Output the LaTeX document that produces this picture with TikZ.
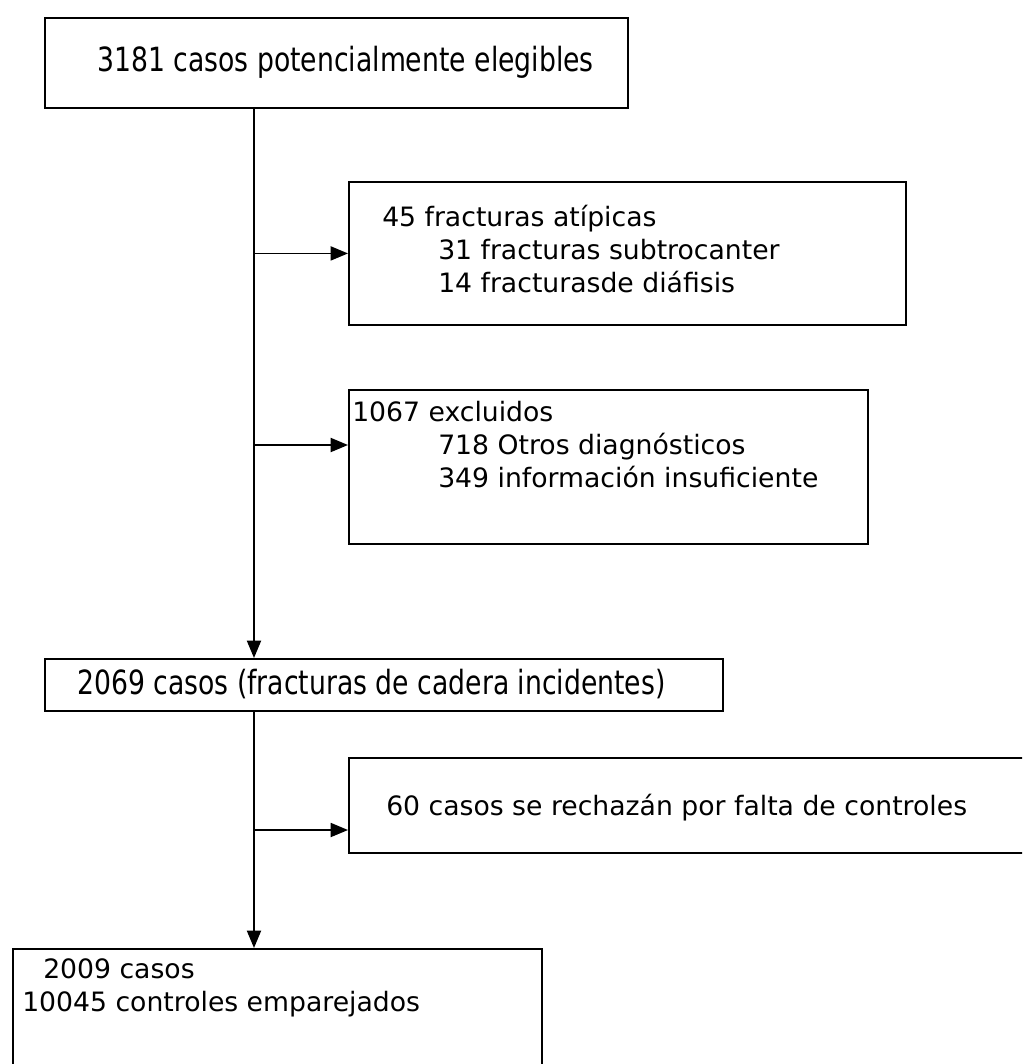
\documentclass[tikz,border=0pt]{standalone}
\usepackage{fontspec}
\setmainfont{DejaVu Sans}
\newfontfamily\narrowfont[FakeStretch=0.8]{DejaVu Sans}
\usetikzlibrary{positioning,arrows.meta,calc}
\tikzset{
  stagebox/.style={draw, rectangle, line width=1.4pt, inner sep=0pt, anchor=north west},
  boxsize/.style 2 args={minimum width=#1*0.75pt, minimum height=#2*0.75pt},
  boxtext/.style={anchor=west, inner sep=0pt, align=left, font=\fontsize{20}{24.75}\selectfont},
  narrowtext/.style={anchor=west, inner sep=0pt, font=\narrowfont\fontsize{25}{28}\selectfont},
  flowarrow/.style={-{Triangle[length=13pt,width=10.5pt]}, line width=1.4pt}
}

\begin{document}
\begin{tikzpicture}[x=0.75pt, y=-0.75pt]
  \useasboundingbox (0,0) rectangle (1022,1064);
  \clip (0,0) rectangle (1022,1064);
  \coordinate (trunk) at (254,0);
  % boxes
  \node[stagebox, boxsize={583}{90}] (elegibles) at (44,17) {};
  \node[stagebox, boxsize={557}{143}] (atipicas) at (348,181) {};
  \node[stagebox, boxsize={519}{154}] (excluidos) at (348,389) {};
  \node[stagebox, boxsize={678}{52}] (incidentes) at (44,658) {};
  \node[stagebox, boxsize={720}{95}] (rechazados) at (348,757) {};
  \node[stagebox, boxsize={529}{140}] (emparejados) at (12,948) {};
  % texts
  \node[narrowtext] (t-elegibles) at (97,62) {3181 casos potencialmente elegibles};
  \node[boxtext] (t-atipicas) at (382,249) {45 fracturas atípicas\\
    \hspace*{42pt}31 fracturas subtrocanter\\
    \hspace*{42pt}14 fracturasde diáfisis};
  \node[boxtext] (t-excluidos) at (352,445) {1067 excluidos\\
    \hspace*{64.5pt}718 Otros diagnósticos\\
    \hspace*{64.5pt}349 información insuficiente};
  \node[narrowtext] (t-incidentes) at (77,684) {2069 casos (fracturas de cadera incidentes)};
  \node[boxtext] (t-rechazados) at (386,808) {60 casos se rechazán por falta de controles};
  \node[boxtext] (t-emparejados) at (22,988) {\hspace*{15.75pt}2009 casos\\
    10045 controles emparejados};
  % connectors
  \draw[flowarrow] (trunk |- elegibles.south) -- (trunk |- incidentes.north);
  \draw[flowarrow] (trunk |- atipicas.west) -- (atipicas.west);
  \draw[flowarrow] (trunk |- {$(excluidos.north west)+(0,56)$}) -- ($(excluidos.north west)+(0,56)$);
  \draw[flowarrow] (trunk |- incidentes.south) -- (trunk |- emparejados.north);
  \draw[flowarrow] (trunk |- {$(rechazados.north west)+(0,73)$}) -- ($(rechazados.north west)+(0,73)$);
\end{tikzpicture}
\end{document}
